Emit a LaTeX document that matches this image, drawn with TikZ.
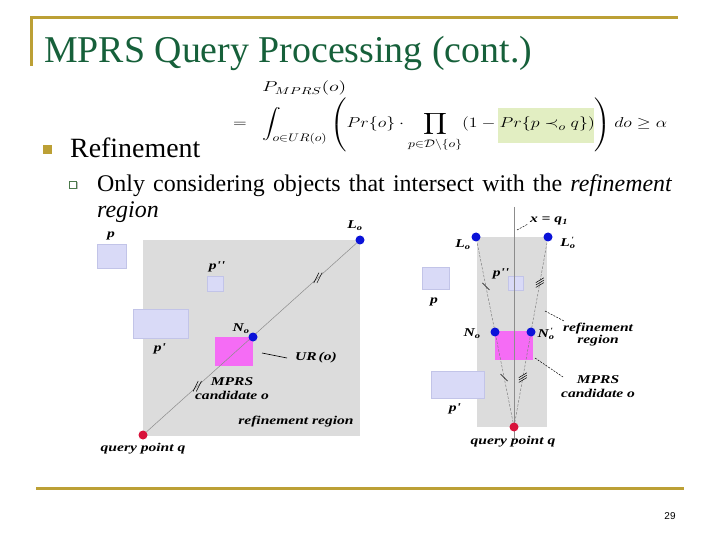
\documentclass[tikz,border=0pt]{standalone}
\usepackage{amsmath,amssymb}
\usepackage{graphicx}
\usepackage{fontspec}
\setmainfont{Liberation Serif}
\newfontfamily\sansf{Liberation Sans}
\newfontfamily\labfont[FakeStretch=1.3]{Liberation Serif}
\usetikzlibrary{calc}
\definecolor{gold}{HTML}{BCA035}
\definecolor{titlegreen}{HTML}{16603A}
\definecolor{hl}{HTML}{E2EEC2}
\definecolor{regfill}{HTML}{DCDCDC}
\definecolor{objfill}{HTML}{D9DAF7}
\definecolor{objdraw}{HTML}{C2C4E8}
\definecolor{urfill}{HTML}{F56CF5}
\definecolor{dotblue}{HTML}{0A12D8}
\definecolor{dotred}{HTML}{D8123A}
\definecolor{subbul}{HTML}{4C7A4C}
\tikzset{
  goldline/.style={draw=gold, line width=3bp},
  lab/.style={font=\labfont\fontsize{12}{13}\selectfont\bfseries\itshape, inner sep=0pt},
  obj/.style={fill=objfill, draw=objdraw, line width=0.6bp},
  urbox/.style={fill=urfill, draw=none},
  region/.style={fill=regfill, draw=none},
  bdot/.style={circle, fill=dotblue, minimum size=9bp, inner sep=0pt},
  rdot/.style={circle, fill=dotred, minimum size=9bp, inner sep=0pt},
  tick/.style={draw=black, line width=0.5bp},
  leader/.style={draw=black, line width=0.6bp},
  dleader/.style={draw=black, line width=0.5bp, dash pattern=on 2bp off 1.2bp},
}
\begin{document}
\begin{tikzpicture}[x=1bp,y=-1bp]
\useasboundingbox (0,0) rectangle (720,540);
% frame lines
\draw[goldline] (30,18) -- (678,18);
\draw[goldline] (31,18) -- (31,66);
\draw[goldline] (36,488) -- (684,488);
% title
\node[anchor=base west, inner sep=0pt, text=titlegreen, font=\fontsize{38}{42}\selectfont] (title) at (44,63) {MPRS Query Processing (cont.)};
% bullets
\node[fill=gold, minimum size=9bp, inner sep=0pt] (b1) at (47.5,150) {};
\node[anchor=base west, inner sep=0pt, font=\fontsize{28}{32}\selectfont] (refine) at (70,158) {Refinement};
\node[fill=black!25, minimum size=7bp, inner sep=0pt] (b2s) at (74,186) {};
\node[draw=subbul, fill=white, line width=0.8bp, minimum size=6.5bp, inner sep=0pt] (b2) at (73,185) {};
\node[anchor=base west, inner sep=0pt, font=\fontsize{24}{28}\selectfont] (line1) at (97,192) {\makebox[575bp][s]{Only considering objects that intersect with the \textit{refinement}}};
\node[anchor=base west, inner sep=0pt, font=\fontsize{24}{28}\selectfont] (line2) at (97,218) {\textit{region}};
% formula
\fill[hl] (498,108) rectangle (594,143);
\node[anchor=base west, inner sep=0pt, font=\fontsize{14}{16}\selectfont] (pm) at (262,92) {\scalebox{1.4}[1]{$P_{MPRS}(o)$}};
\node[anchor=base, inner sep=0pt, font=\fontsize{15}{17}\selectfont] (eqs) at (240,128) {\scalebox{1.25}[1]{$=$}};
\node[anchor=base west, inner sep=0pt, font=\fontsize{15}{17}\selectfont] (eq) at (262,128) {\scalebox{1.25}[1]{$\displaystyle \int_{o\in UR(o)} \left( Pr\{o\}\cdot \prod_{p\in\mathcal{D}\setminus\{o\}} (1-Pr\{p\prec_o q\}) \right) do \geq \alpha$}};
% page number
\node[anchor=center, inner sep=0pt, font=\sansf\fontsize{10}{12}\selectfont] (pg) at (670,516) {29};

% ===== left diagram =====
\fill[region] (143,240) rectangle (360,436);
\draw[obj] (97,244) rectangle (126,268);
\draw[obj] (207,276) rectangle (223,291);
\draw[obj] (133,309) rectangle (188,338);
\fill[urbox] (215,337) rectangle (253,366);
\node[rdot] (q) at (143,435) {};
\node[bdot] (Lo) at (360,240) {};
\draw[black!45, line width=0.5bp] (q) -- (Lo);
\node[bdot] (No) at (253,337) {};
\foreach \t in {0.25,0.806}{
  \foreach \k in {-1.6,1.6}{
    \draw[tick] ($($(q)!\t!(Lo)$)+(\k,0)+(-2.6,5.2)$) -- ++(5.2,-10.4);
  }
}
\node[lab] (lp) at (111,236) {p};
\node[lab] (lLo) at (355,226) {L\textsubscript{o}};
\node[lab] (lp2) at (217,267) {p''};
\node[lab] (lNo) at (241,329) {N\textsubscript{o}};
\node[lab] (lp1) at (160,349) {p'};
\node[lab] (lUR) at (316,358) {UR\,(o)};
\coordinate (urA) at (262,353);
\coordinate (urB) at (287,358);
\draw[leader] (urA) -- (urB);
\node[lab, align=center] (lmprs) at (232,389) {MPRS\\[1pt]candidate o};
\node[lab] (lreg) at (296,422) {refinement region};
\node[lab] (lq) at (143,449) {query point q};

% ===== right diagram =====
\fill[region] (477,237) rectangle (547,427);
\draw[obj] (422,267) rectangle (449,289);
\draw[obj] (508,276) rectangle (523,290);
\draw[obj] (431,371) rectangle (484,398);
\fill[urbox] (495,331) rectangle (533,360);
\coordinate (vtop) at (514,207);
\coordinate (vbot) at (514,440);
\draw[black!45, line width=0.5bp] (vtop) -- (vbot);
\node[rdot] (rq) at (514,427) {};
\node[bdot] (rLo) at (476,237) {};
\node[bdot] (rLo2) at (548,237) {};
\draw[black!50, line width=0.5bp, dash pattern=on 2.5bp off 1.5bp] (rq) -- (rLo);
\draw[black!50, line width=0.5bp, dash pattern=on 2.5bp off 1.5bp] (rq) -- (rLo2);
\node[bdot] (rNo) at (495,332) {};
\node[bdot] (rNo2) at (531,332) {};
% ticks
\foreach \t in {0.26,0.74}{
  \draw[tick] ($($(rq)!\t!(rLo)$)+(-3.5,-3.5)$) -- ++(7,7);
}
\foreach \t in {0.26,0.76}{
  \foreach \k in {-2.4,0,2.4}{
    \draw[tick] ($($(rq)!\t!(rLo2)$)+(0,\k)+(-4,2.4)$) -- ++(8,-4.8);
  }
}
\node[lab] (rxq) at (549,221) {x = q\textsubscript{1}};
\coordinate (xqA) at (517,230);
\coordinate (xqB) at (528,224);
\draw[dleader] (xqA) -- (xqB);
\node[lab] (rlLo) at (463,245) {L\textsubscript{o}};
\node[lab] (rlLo2) at (568,243) {L\rlap{\textsuperscript{\kern1pt'}}\textsubscript{o}};
\node[lab] (rlp2) at (501,274) {p''};
\node[lab] (rlp) at (434,302) {p};
\node[lab] (rlNo) at (472,334) {N\textsubscript{o}};
\node[lab] (rlNo2) at (546,334) {N\rlap{\textsuperscript{\kern1pt'}}\textsubscript{o}};
\node[lab, align=center] (rlreg) at (598,335) {refinement\\[-1pt]region};
\coordinate (regA) at (545,311);
\coordinate (regB) at (564,321);
\draw[dleader] (regA) -- (regB);
\node[lab, align=center] (rlmprs) at (598,387) {MPRS\\[1pt]candidate o};
\coordinate (mpA) at (535,358);
\coordinate (mpB) at (563,377);
\draw[dleader] (mpA) -- (mpB);
\node[lab] (rlp1) at (455,409) {p'};
\node[lab] (rlq) at (513,442) {query point q};
\end{tikzpicture}
\end{document}
